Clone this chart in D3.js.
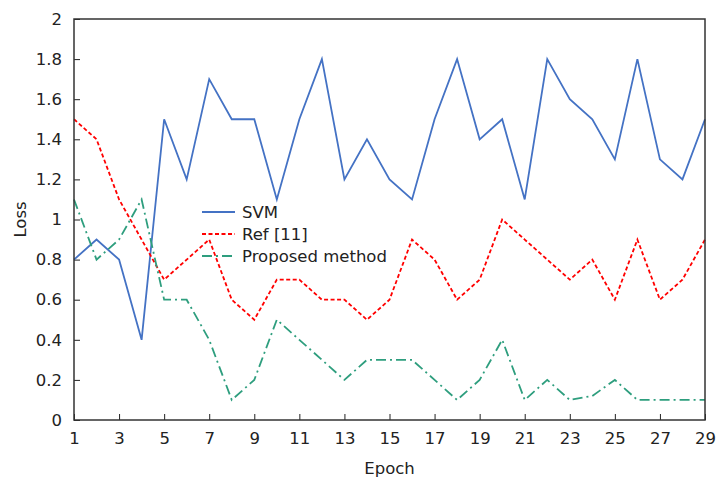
<!DOCTYPE html>
<html>
<head>
<meta charset="utf-8">
<script src="https://cdn.jsdelivr.net/npm/d3@7"></script>
<style>
  body { margin: 0; background: #fff; }
  svg text { font-family: "DejaVu Sans", Verdana, sans-serif; fill: #222; }
</style>
</head>
<body>
<svg id="chart" width="717" height="478"></svg>
<script>
const epochs = d3.range(1, 30);
const svmLoss = [0.8, 0.9, 0.8, 0.4, 1.5, 1.2, 1.7, 1.5, 1.5, 1.1, 1.5, 1.8, 1.2, 1.4, 1.2,
  1.1, 1.5, 1.8, 1.4, 1.5, 1.1, 1.8, 1.6, 1.5, 1.3, 1.8, 1.3, 1.2, 1.5];
const refLoss = [1.5, 1.4, 1.1, 0.9, 0.7, 0.8, 0.9, 0.6, 0.5, 0.7, 0.7, 0.6, 0.6, 0.5, 0.6,
  0.9, 0.8, 0.6, 0.7, 1.0, 0.9, 0.8, 0.7, 0.8, 0.6, 0.9, 0.6, 0.7, 0.9];
const proposedLoss = [1.1, 0.8, 0.9, 1.1, 0.6, 0.6, 0.4, 0.1, 0.2, 0.5, 0.4, 0.3, 0.2, 0.3, 0.3,
  0.3, 0.2, 0.1, 0.2, 0.4, 0.1, 0.2, 0.1, 0.12, 0.2, 0.1, 0.1, 0.1, 0.1];
const xTicks = d3.range(1, 30, 2);
const yTicks = d3.range(0, 2.01, 0.2);

const series = [
  { name: 'SVM', values: svmLoss, color: '#4472C4', dash: null },
  { name: 'Ref [11]', values: refLoss, color: '#FF0000', dash: '4,2.5' },
  { name: 'Proposed method', values: proposedLoss, color: '#2E9E7E', dash: '10,4,2,4' }
];

const fontSize = 16.5;
const m = { left: 74, right: 705, top: 19, bottom: 420 };
const svg = d3.select('#chart');

const x = d3.scaleLinear().domain([1, 29]).range([m.left, m.right]);
const y = d3.scaleLinear().domain([0, 2]).range([m.bottom, m.top]);

// axes with inward ticks
svg.append('g')
  .attr('transform', `translate(0,${m.bottom})`)
  .call(d3.axisBottom(x).tickValues(xTicks).tickFormat(d3.format('d'))
    .tickSizeInner(-6).tickSizeOuter(0).tickPadding(12))
  .call(g => g.select('.domain').remove())
  .call(g => g.selectAll('line').attr('stroke', '#222'))
  .call(g => g.selectAll('text').attr('font-size', fontSize).attr('fill', '#222')
    .attr('font-family', '"DejaVu Sans", Verdana, sans-serif'));

svg.append('g')
  .attr('transform', `translate(${m.left},0)`)
  .call(d3.axisLeft(y).tickValues(yTicks).tickFormat(d => d3.format('~g')(+d.toFixed(1)))
    .tickSizeInner(-6).tickSizeOuter(0).tickPadding(12))
  .call(g => g.select('.domain').remove())
  .call(g => g.selectAll('line').attr('stroke', '#222'))
  .call(g => g.selectAll('text').attr('font-size', fontSize).attr('fill', '#222')
    .attr('font-family', '"DejaVu Sans", Verdana, sans-serif'));

const line = d3.line().x((d, i) => x(epochs[i])).y(d => y(d));

svg.append('g').selectAll('path')
  .data(series)
  .enter()
  .append('path')
  .attr('d', d => line(d.values))
  .attr('fill', 'none')
  .attr('stroke', d => d.color)
  .attr('stroke-width', 1.8)
  .attr('stroke-dasharray', d => d.dash);

// frame
svg.append('rect')
  .attr('x', m.left).attr('y', m.top)
  .attr('width', m.right - m.left).attr('height', m.bottom - m.top)
  .attr('fill', 'none').attr('stroke', '#333').attr('stroke-width', 1.5);

// legend
const legend = svg.append('g').attr('transform', 'translate(202,212)');
const items = legend.selectAll('g').data(series).enter().append('g')
  .attr('transform', (d, i) => `translate(0,${i * 22})`);
items.append('line')
  .attr('x1', 0).attr('x2', 33).attr('y1', 0).attr('y2', 0)
  .attr('stroke', d => d.color).attr('stroke-width', 1.8)
  .attr('stroke-dasharray', d => d.dash);
items.append('text')
  .attr('x', 40).attr('y', 0).attr('dy', '0.35em')
  .attr('font-size', fontSize)
  .text(d => d.name);

// axis titles
svg.append('text')
  .attr('x', (m.left + m.right) / 2).attr('y', 468)
  .attr('text-anchor', 'middle').attr('dy', '0.35em')
  .attr('font-size', fontSize)
  .text('Epoch');

svg.append('text')
  .attr('transform', `translate(20,${(m.top + m.bottom) / 2}) rotate(-90)`)
  .attr('text-anchor', 'middle').attr('dy', '0.35em')
  .attr('font-size', fontSize)
  .text('Loss');
</script>
</body>
</html>
